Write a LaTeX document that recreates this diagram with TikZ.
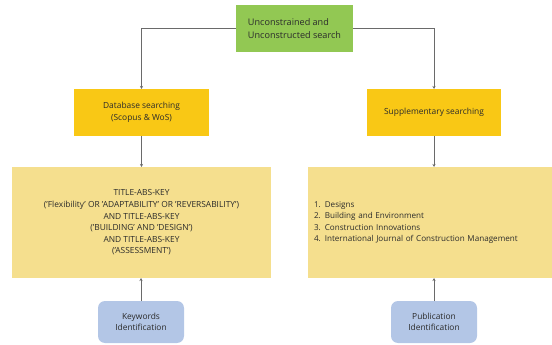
\documentclass[tikz,border=0pt]{standalone}
\usepackage{fontspec}
\setmainfont{Open Sans}
\usetikzlibrary{arrows.meta}
\definecolor{cgreen}{HTML}{92C853}
\definecolor{cyellow}{HTML}{F9C815}
\definecolor{clight}{HTML}{F5DF8E}
\definecolor{cblue}{HTML}{B3C6E6}
\definecolor{cline}{HTML}{6A6A6A}
\definecolor{ctext}{HTML}{2B2B2B}
\begin{document}
\begin{tikzpicture}[x=1pt,y=-1pt,
  box/.style={inner sep=0pt, outer sep=0pt, text=ctext, font=\fontsize{8.4}{11.6}\selectfont},
  conn/.style={draw=cline, line width=0.8pt, -{Stealth[length=3pt,width=3pt]}}]
\useasboundingbox (0,0) rectangle (552,345);
\node[box, fill=cgreen, minimum width=117pt, minimum height=47pt, align=left, font=\fontsize{9.1}{13}\selectfont] (top) at (294.5,28.5) {Unconstrained and\\Unconstructed search};
\node[box, fill=cyellow, minimum width=135pt, minimum height=47pt, align=center] (db) at (141.5,112.5) {Database searching\\(Scopus \& WoS)};
\node[box, fill=cyellow, minimum width=134pt, minimum height=47pt, align=center] (sup) at (434,112.5) {Supplementary searching};
\node[box, fill=clight, minimum width=259pt, minimum height=111pt, align=center] (kw) at (141.5,222.5) {TITLE-ABS-KEY\\('Flexibility' OR 'ADAPTABILITY' OR 'REVERSABILITY')\\AND TITLE-ABS-KEY\\('BUILDING' AND 'DESIGN')\\AND TITLE-ABS-KEY\\('ASSESSMENT')};
\node[box, fill=clight, minimum width=244pt, minimum height=111pt, text width=232pt, inner xsep=6pt, align=left, font=\fontsize{8.1}{11.6}\selectfont] (pub) at (430,222.5) {1. Designs\\2. Building and Environment\\3. Construction Innovations\\4. International Journal of Construction Management};
\node[box, fill=cblue, rounded corners=7pt, minimum width=86pt, minimum height=42pt, align=center] (kwid) at (141,322) {Keywords\\Identification};
\node[box, fill=cblue, rounded corners=7pt, minimum width=86pt, minimum height=42pt, align=center] (pubid) at (434,322) {Publication\\Identification};
\draw[conn] (top.west) -| (db.north);
\draw[conn] (top.east) -| (sup.north);
\draw[conn] (db.south) -- (kw.north);
\draw[conn] (sup.south) -- (sup.south |- pub.north);
\draw[conn] (kwid.north) -- (kwid.north |- kw.south);
\draw[conn] (pubid.north) -- (pubid.north |- pub.south);
\end{tikzpicture}
\end{document}
